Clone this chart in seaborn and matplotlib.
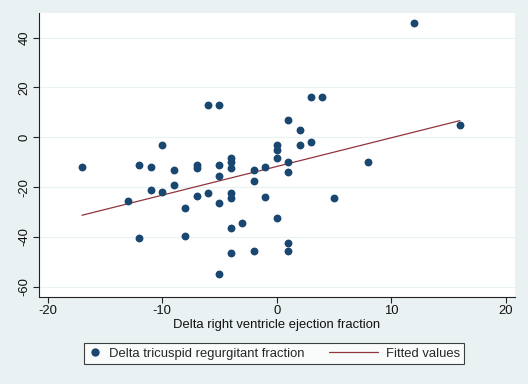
import numpy as np
import pandas as pd
import matplotlib
matplotlib.use("Agg")
import matplotlib.pyplot as plt
import seaborn as sns
from matplotlib.lines import Line2D
from matplotlib.legend_handler import HandlerLine2D

# datos
delta_rvef = [-17, -13, -12, -12, -11, -11, -10, -10, -9, -9,
              -8, -8, -7, -7, -7, -6, -6, -5, -5, -5,
              -5, -5, -4, -4, -4, -4, -4, -4, -4, -3,
              -2, -2, -2, -1, -1, 0, 0, 0, 0, 1,
              1, 1, 1, 1, 2, 2, 3, 3, 4, 5,
              8, 12, 16]
delta_trf = [-12, -25.5, -11, -40.5, -12, -21, -3, -22, -13, -19,
             -28.5, -39.5, -11, -12.5, -23.5, 13, -22.5, 13, -11, -15.5,
             -26.5, -54.8, -8.5, -10, -12.3, -22.5, -24.5, -36.5, -46.5, -34.5,
             -13, -17.5, -45.5, -12, -24, -3, -5, -8.3, -32.5, 7,
             -10, -14, -42.5, -45.5, 3, -3, 16, -2, 16, -24.5,
             -10, 46, 5]

x_ticks = [-20, -10, 0, 10, 20]
y_ticks = [-60, -40, -20, 0, 20, 40]

df = pd.DataFrame({"rvef": delta_rvef, "trf": delta_trf})

bg = "#E9F1F2"
navy = "#1A476F"
maroon = "#90353B"
fs = 9.4


# linea de leyenda mas larga que la caja del marcador
class LongLine(HandlerLine2D):
    def create_artists(self, legend, orig_handle, xdescent, ydescent,
                       width, height, fontsize, trans):
        ext = 2.8 * fontsize
        return super().create_artists(legend, orig_handle, xdescent + ext,
                                      ydescent, width + ext, height,
                                      fontsize, trans)


sns.set_style("white")
plt.rcParams["font.family"] = ["Liberation Sans", "DejaVu Sans"]
plt.rcParams["axes.unicode_minus"] = False

fig = plt.figure(figsize=(5.28, 3.84), dpi=100, facecolor=bg)
ax = fig.add_axes([0.073, 0.227, 0.902, 0.740])
ax.set_facecolor("white")

sns.regplot(data=df, x="rvef", y="trf", scatter=False, ci=None, ax=ax,
            line_kws={"color": maroon, "lw": 0.9})
sns.scatterplot(data=df, x="rvef", y="trf", ax=ax, color=navy, s=32,
                edgecolor=navy, linewidth=0, zorder=3)

ax.set_xlim(-20.8, 20.8)
ax.set_ylim(-64, 50)
ax.set_xticks(x_ticks)
ax.set_yticks(y_ticks)
ax.grid(axis="y", color=bg, lw=0.8)
ax.set_axisbelow(True)
for s in ["top", "right"]:
    ax.spines[s].set_visible(False)
for s in ["left", "bottom"]:
    ax.spines[s].set_color("#222222")
    ax.spines[s].set_linewidth(0.8)
ax.tick_params(axis="both", direction="out", length=4, width=0.8,
               color="#222222", labelsize=fs, labelcolor="#111111", pad=2,
               left=True, bottom=True)
for lab in ax.get_yticklabels():
    lab.set_rotation(90)
    lab.set_va("center")
ax.set_xlabel("Delta right ventricle ejection fraction", fontsize=fs,
              color="#111111", labelpad=1)
ax.set_ylabel("")

fit_handle = Line2D([], [], color=maroon, lw=0.9)
handles = [Line2D([], [], marker="o", ls="", color=navy, markersize=5),
           fit_handle]
leg = fig.legend(handles, ["Delta tricuspid regurgitant fraction", "Fitted values"],
                 loc="center", bbox_to_anchor=(0.519, 0.079), ncol=2,
                 frameon=True, fancybox=False, fontsize=fs, handlelength=1.0,
                 columnspacing=4.7, handletextpad=0.55, borderpad=0.35,
                 borderaxespad=0, handler_map={fit_handle: LongLine()})
leg.get_frame().set_edgecolor("#111111")
leg.get_frame().set_linewidth(0.8)
leg.get_frame().set_facecolor("white")

fig.savefig("out.png", dpi=100, facecolor=bg)
